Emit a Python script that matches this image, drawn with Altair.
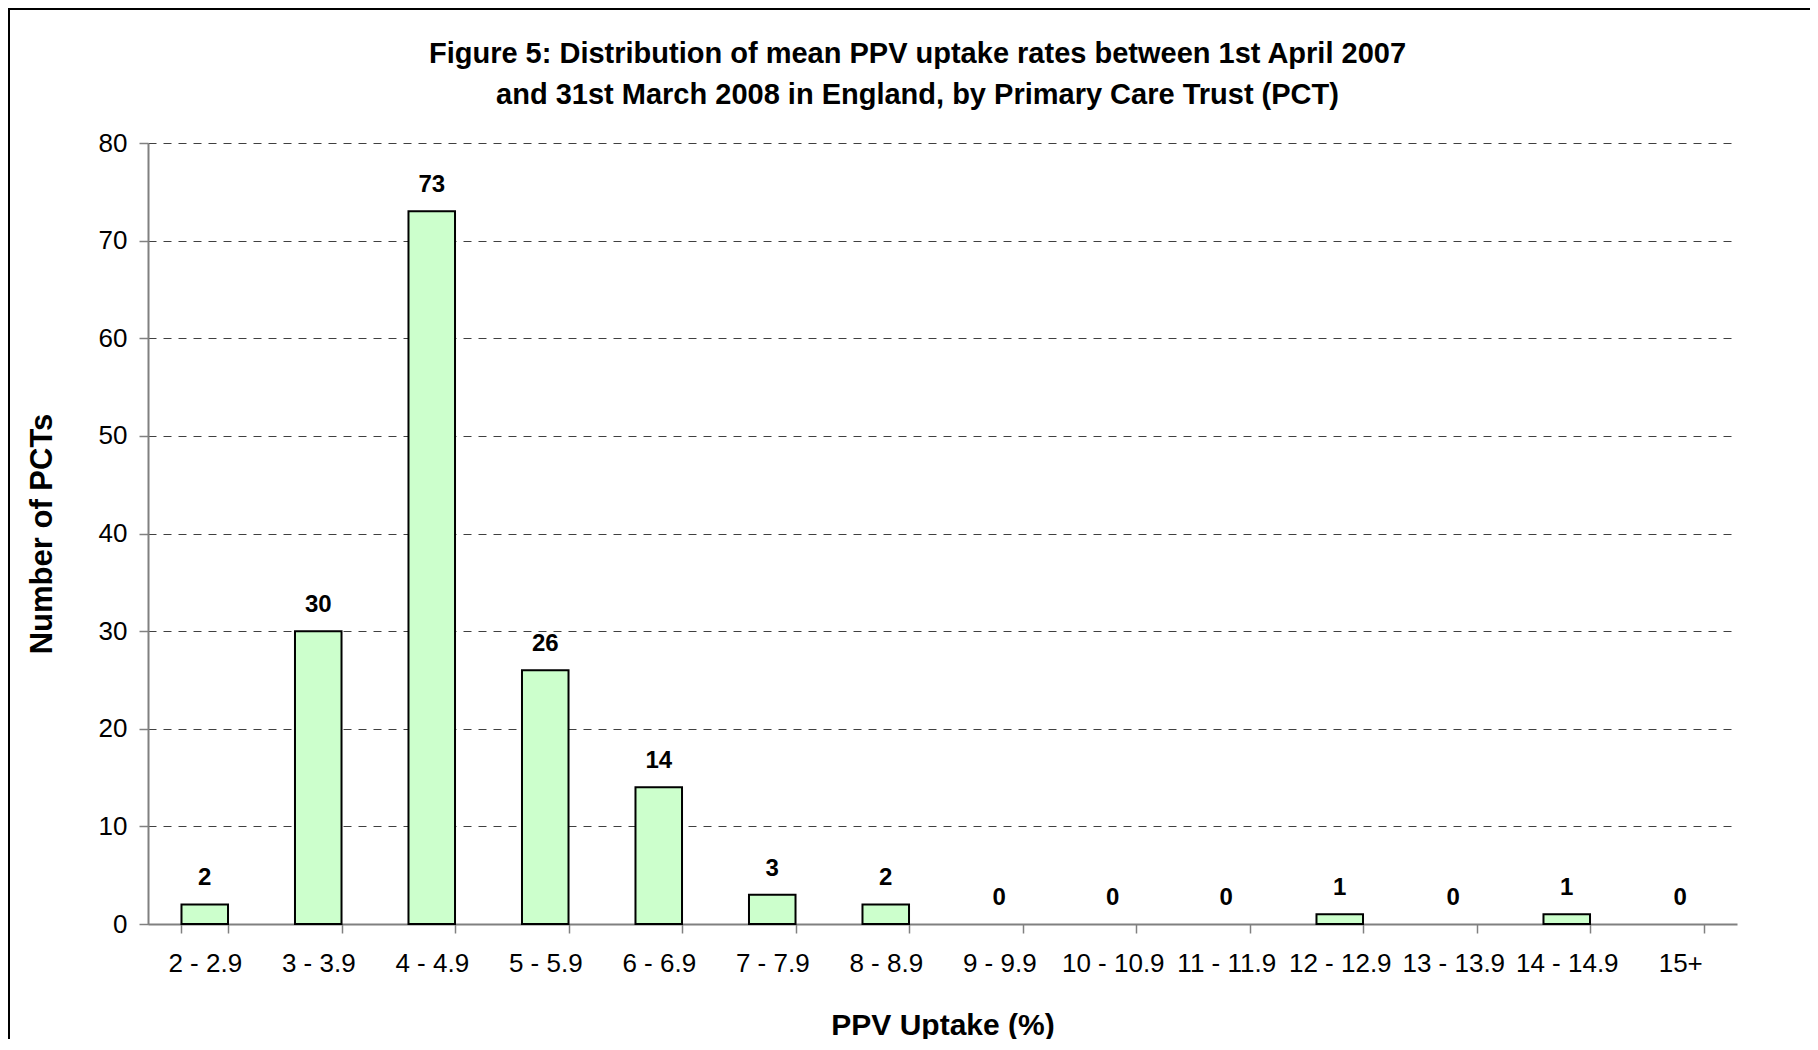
import altair as alt
import pandas as pd

categories = ["2 - 2.9", "3 - 3.9", "4 - 4.9", "5 - 5.9", "6 - 6.9", "7 - 7.9",
              "8 - 8.9", "9 - 9.9", "10 - 10.9", "11 - 11.9", "12 - 12.9",
              "13 - 13.9", "14 - 14.9", "15+"]
counts = [2, 30, 73, 26, 14, 3, 2, 0, 0, 0, 1, 0, 1, 0]
y_ticks = [0, 10, 20, 30, 40, 50, 60, 70, 80]
title_lines = ["Figure 5: Distribution of mean PPV uptake rates between 1st April 2007",
               "and 31st March 2008 in England, by Primary Care Trust (PCT)"]

df = pd.DataFrame({"band": categories, "count": counts})
FONT = "Liberation Sans"

x_enc = alt.X(
    "band:N", sort=categories, title="PPV Uptake (%)",
    scale=alt.Scale(domain=categories, paddingInner=0.59, paddingOuter=0.295),
    axis=alt.Axis(labelAngle=0, labelFontSize=26, labelFont=FONT, labelColor="black",
                  tickBand="extent", tickSize=9, tickColor="#808080", tickWidth=1.5,
                  domainColor="#808080", domainWidth=2, labelPadding=17,
                  titleFont=FONT, titleFontSize=30, titleFontWeight="bold",
                  titleColor="black", titlePadding=34, grid=False),
)
y_enc = alt.Y(
    "count:Q", title="Number of PCTs",
    scale=alt.Scale(domain=[0, 80], nice=False),
    axis=alt.Axis(values=y_ticks, labelFontSize=26, labelFont=FONT, labelColor="black",
                  tickSize=9, tickColor="#808080", tickWidth=1.5,
                  domainColor="#808080", domainWidth=2, labelPadding=12,
                  titleFont=FONT, titleFontSize=31, titleFontWeight="bold",
                  titleColor="black", titlePadding=40,
                  grid=True, gridColor="#404040", gridDash=[8, 7], gridWidth=1),
)

bars = alt.Chart(df).transform_filter("datum.count > 0").mark_bar(
    fill="#CCFFCC", stroke="black", strokeWidth=2
).encode(x=x_enc, y=y_enc)
labels = alt.Chart(df).mark_text(
    font=FONT, fontSize=24, fontWeight="bold", color="black",
    baseline="alphabetic", dy=-19
).encode(x=alt.X("band:N", sort=categories), y="count:Q", text="count:Q")

frame = alt.Chart(pd.DataFrame({"f": [0]})).mark_rect(
    fillOpacity=0, stroke="black", strokeWidth=2
).encode(x=alt.value(-139), x2=alt.value(1800), y=alt.value(-134), y2=alt.value(1100))

chart = alt.layer(bars, labels, frame).properties(
    width=1589, height=781,
    autosize=alt.AutoSizeParams(type="none"),
    padding={"left": 140, "top": 135, "right": 73, "bottom": 115},
    title=alt.TitleParams(text=title_lines, font=FONT, fontSize=29, fontWeight="bold",
                          color="black", lineHeight=41, anchor="middle", dx=-25,
                          offset=-102),
).configure_view(stroke=None)

chart.save("out.html", embed_options={"renderer": "svg", "actions": False})
